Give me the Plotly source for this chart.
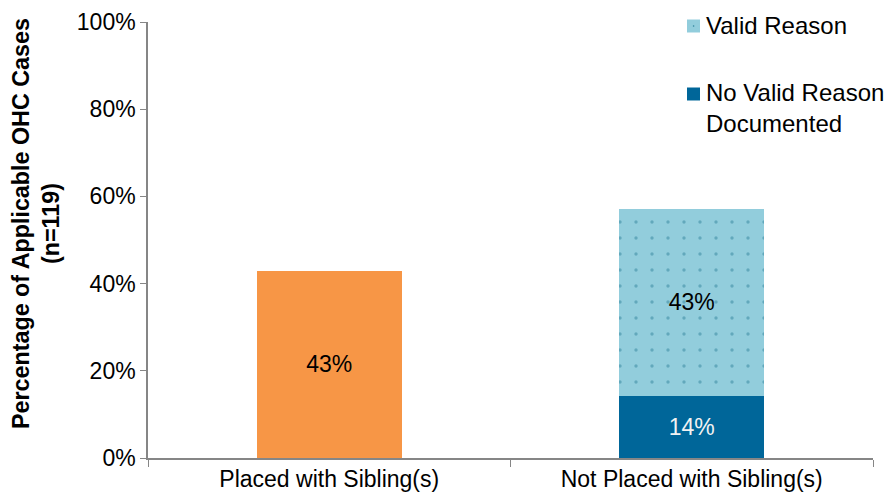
import plotly.graph_objects as go

categories = ["Placed with Sibling(s)", "Not Placed with Sibling(s)"]
placed = [42.9, None]
no_valid = [None, 14.3]
valid = [None, 42.9]
y_ticks = [0, 20, 40, 60, 80, 100]
y_tick_labels = ["0%", "20%", "40%", "60%", "80%", "100%"]
legend_labels = ["Valid Reason", "No Valid Reason<br>Documented"]
y_title = "Percentage of Applicable OHC Cases<br>(n=119)"

FONT = "Arial, Liberation Sans, sans-serif"
FS = 23
C_ORANGE = "#F79646"
C_DARK = "#006699"
C_LIGHT = "#92CDDC"
C_DOT = "#31849B"

W, H = 886, 500
ML, MR, MT, MB = 148, 13, 22, 42
PW, PH = W - ML - MR, H - MT - MB


def px(xp):
    return (xp - ML) / PW


def py(yp):
    return (H - MB - yp) / PH


fig = go.Figure()
fig.add_bar(x=categories, y=placed, name="Placed", showlegend=False,
            marker=dict(color=C_ORANGE, line=dict(width=0)),
            texttemplate="%{y:.0f}%", textposition="inside", insidetextanchor="middle",
            textfont=dict(color="black", size=FS, family=FONT))
fig.add_bar(x=categories, y=no_valid, name="No Valid Reason Documented", showlegend=False,
            marker=dict(color=C_DARK, line=dict(width=0)),
            texttemplate="%{y:.0f}%", textposition="inside", insidetextanchor="middle",
            textfont=dict(color="#F2F2F2", size=FS, family=FONT))
fig.add_bar(x=categories, y=valid, name="Valid Reason", showlegend=False,
            marker=dict(color=C_LIGHT, line=dict(width=0),
                        pattern=dict(shape=".", fgcolor=C_DOT, bgcolor=C_LIGHT,
                                     size=16, solidity=0.035, fillmode="overlay")),
            texttemplate="%{y:.0f}%", textposition="inside", insidetextanchor="middle",
            textfont=dict(color="black", size=FS, family=FONT))

# custom legend (swatches + labels)
swatches = [(C_LIGHT, 19.5, 32.5), (C_DARK, 87.5, 100.5)]
for color, t, b in swatches:
    fig.add_shape(type="rect", xref="paper", yref="paper",
                  x0=px(687), x1=px(700), y0=py(b), y1=py(t),
                  fillcolor=color, line=dict(width=0))
fig.add_shape(type="circle", xref="paper", yref="paper",
              x0=px(692.8), x1=px(694.4), y0=py(26.8), y1=py(25.2),
              fillcolor=C_DOT, line=dict(width=0))
fig.add_annotation(text=legend_labels[0], xref="paper", yref="paper",
                   x=px(704), y=py(25.5), xanchor="left", yanchor="middle",
                   showarrow=False, align="left", font=dict(size=24, family=FONT, color="black"))
fig.add_annotation(text=legend_labels[1], xref="paper", yref="paper",
                   x=px(704), y=py(108), xanchor="left", yanchor="middle",
                   showarrow=False, align="left", font=dict(size=24, family=FONT, color="black"))

# y-axis title
fig.add_annotation(text=y_title, xref="paper", yref="paper", textangle=-90,
                   x=px(36), y=py(224), xanchor="center", yanchor="middle",
                   showarrow=False, align="center",
                   font=dict(size=23.3, family=FONT, color="black", weight="bold"))

fig.update_layout(
    barmode="stack",
    bargap=0.6,
    width=W, height=H,
    margin=dict(l=ML, r=MR, t=MT, b=MB, autoexpand=False),
    paper_bgcolor="white", plot_bgcolor="white",
    font=dict(family=FONT, size=FS, color="black"),
    showlegend=False,
    xaxis=dict(showline=True, linecolor="#868686", linewidth=1.5, automargin=False,
               ticks="outside", tickson="boundaries", ticklen=7, tickcolor="#868686",
               tickfont=dict(size=FS, family=FONT), showgrid=False),
    yaxis=dict(range=[0, 100], tickvals=y_ticks, ticktext=y_tick_labels, automargin=False,
               showline=True, linecolor="#868686", linewidth=1.5,
               ticks="outside", ticklen=6, tickcolor="#868686", showgrid=False,
               zeroline=False, tickfont=dict(size=FS, family=FONT)),
)

fig.write_html("out.html", config={"displayModeBar": False},
               post_script="document.body.style.margin='0';")
